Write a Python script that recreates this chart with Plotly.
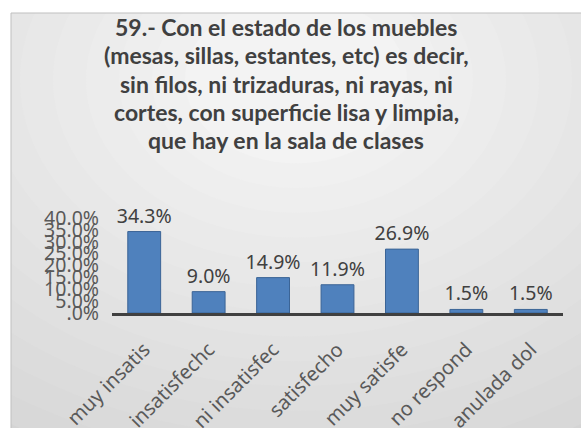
import plotly.graph_objects as go

# Survey answers and their shares
categories = ["muy insatisfecho", "insatisfecho", "ni insatisfecho ni satisfecho",
              "satisfecho", "muy satisfecho", "no responde", "anulada doble marca"]
tick_labels = ["muy insatis", "insatisfechc", "ni insatisfec", "satisfecho",
               "muy satisfe", "no respond", "anulada dol"]
values = [0.343, 0.090, 0.149, 0.119, 0.269, 0.015, 0.015]
value_labels = ["34.3%", "9.0%", "14.9%", "11.9%", "26.9%", "1.5%", "1.5%"]
y_ticks = [0.0, 0.05, 0.10, 0.15, 0.20, 0.25, 0.30, 0.35, 0.40]
y_tick_text = [".0%", "5.0%", "10.0%", "15.0%", "20.0%", "25.0%", "30.0%", "35.0%", "40.0%"]

title_lines = ["59.- Con el estado de los muebles",
               "(mesas, sillas, estantes, etc) es decir,",
               "sin filos, ni trizaduras, ni rayas, ni",
               "cortes, con superficie lisa y limpia,",
               "que hay en la sala de clases"]

W, H = 581, 428
L, R, T, B = 112, 18, 218, 115
pw, ph = W - L - R, H - T - B
FONT = "Noto Sans"


def px(x):
    return (x - L) / pw


def py(y):
    return (H - B - y) / ph


fig = go.Figure(go.Bar(
    x=tick_labels, y=values,
    text=value_labels, textposition="outside", cliponaxis=False,
    constraintext="none",
    textfont=dict(family=FONT, size=19.5, color="#404040"),
    marker=dict(color="#4F81BD", line=dict(color="#3B6496", width=1)),
    customdata=categories,
    hovertemplate="%{customdata}: %{text}<extra></extra>",
))

# Soft radial backdrop of the chart area
shapes = [dict(type="rect", xref="paper", yref="paper", layer="below",
               x0=px(11), x1=px(W + 5), y0=py(13), y1=py(H + 5),
               fillcolor="#d4d4d4", line_width=0)]
cx, cy = 296, 80
steps = 14
for i in range(steps):
    r = 540 - i * 33
    g = 0xd6 + int((0xf3 - 0xd6) * (i + 1) / steps)
    col = "#%02x%02x%02x" % (g, g, g)
    shapes.append(dict(type="circle", xref="paper", yref="paper", layer="below",
                       x0=px(cx - r), x1=px(cx + r), y0=py(cy - r * 0.75), y1=py(cy + r * 0.75),
                       fillcolor=col, line_width=0))
# white outside the chart frame
shapes.append(dict(type="rect", xref="paper", yref="paper", layer="below",
                   x0=px(-50), x1=px(11), y0=py(-50), y1=py(H + 50),
                   fillcolor="white", line_width=0))
shapes.append(dict(type="rect", xref="paper", yref="paper", layer="below",
                   x0=px(-50), x1=px(W + 50), y0=py(-50), y1=py(13),
                   fillcolor="white", line_width=0))
shapes.append(dict(type="rect", xref="paper", yref="paper", layer="below",
                   x0=px(11), x1=px(W + 5), y0=py(13), y1=py(H + 5),
                   fillcolor="rgba(0,0,0,0)", line=dict(color="#bfbfbf", width=1)))

# Title, one annotation per line for even spacing
annotations = []
for i, line in enumerate(title_lines):
    annotations.append(dict(text="<b>" + line + "</b>", xref="paper", yref="paper",
                            x=px(286), y=py(27 + i * 28.3), xanchor="center", yanchor="middle",
                            showarrow=False,
                            font=dict(family="Lato", size=23, color="#404040")))

fig.update_layout(
    width=W, height=H,
    margin=dict(l=L, r=R, t=T, b=B, pad=0, autoexpand=False),
    paper_bgcolor="white", plot_bgcolor="rgba(0,0,0,0)",
    showlegend=False, bargap=0.49,
    shapes=shapes,
    annotations=annotations,
    xaxis=dict(tickangle=-45, showline=True, linecolor="#404040", linewidth=3,
               showgrid=False, ticks="", ticklabelstandoff=14, automargin=False,
               tickfont=dict(family=FONT, size=20, color="#595959")),
    yaxis=dict(range=[0, 0.40], tickmode="array", tickvals=y_ticks, ticktext=y_tick_text,
               showgrid=False, zeroline=False, showline=False, ticks="",
               ticklabelstandoff=12, automargin=False,
               tickfont=dict(family=FONT, size=19.5, color="#595959")),
)

fig.write_html("out.html")
